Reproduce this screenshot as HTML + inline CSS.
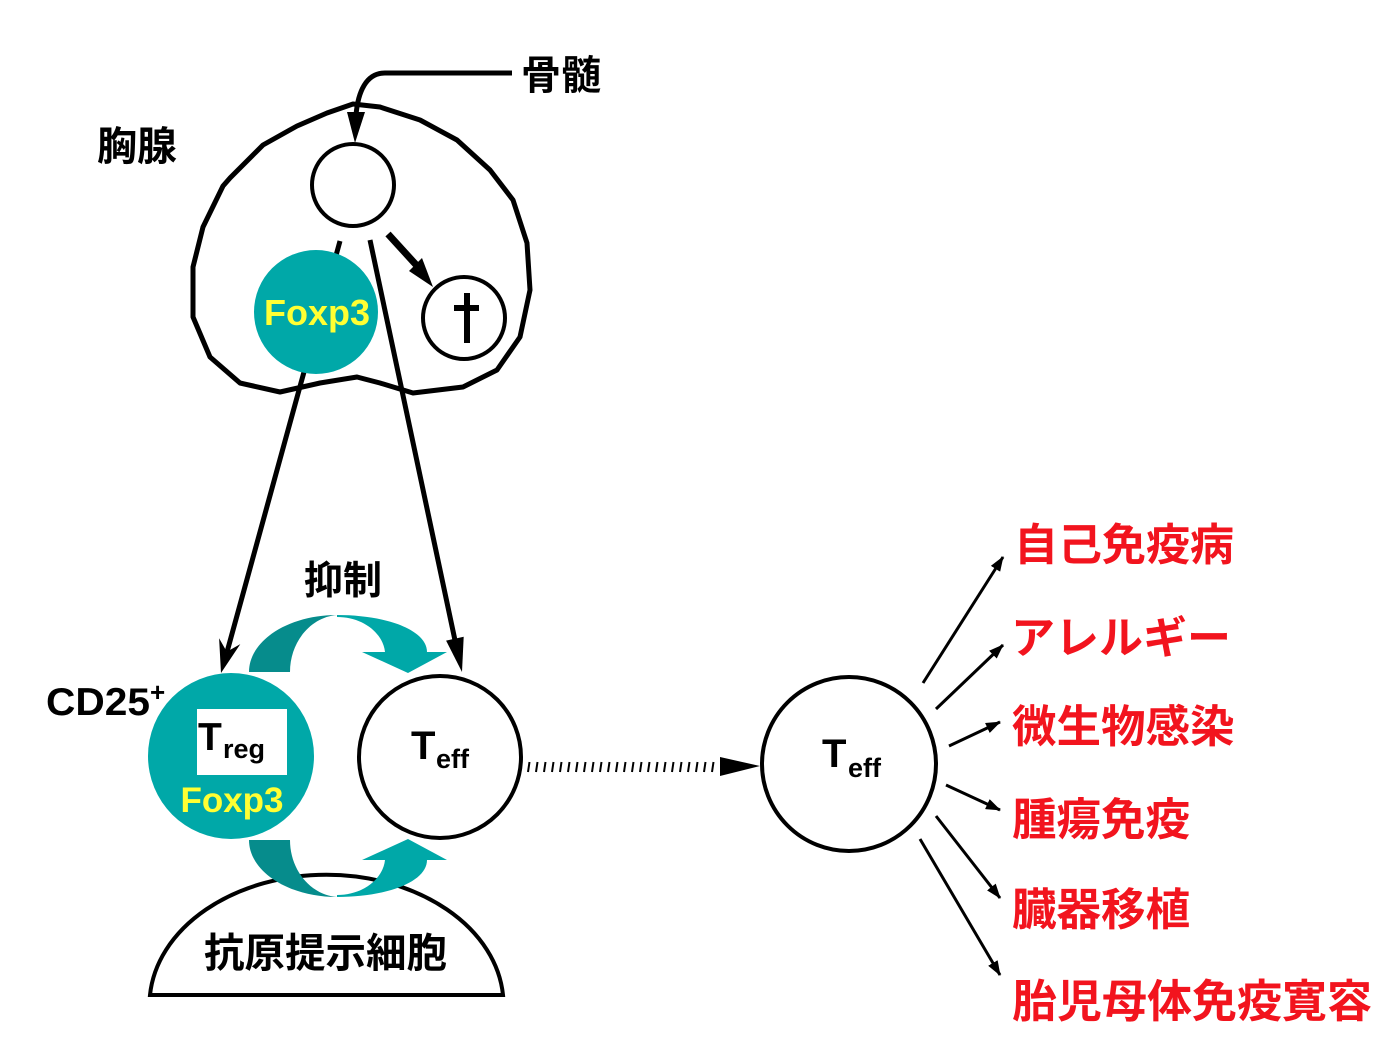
<!DOCTYPE html>
<html><head><meta charset="utf-8"><style>
html,body{margin:0;padding:0;background:#fff;}
svg{display:block;}
.cj{font-family:"Liberation Sans","Noto Sans CJK JP",sans-serif;font-weight:bold;}
.lt{font-family:"Liberation Sans",sans-serif;font-weight:bold;}
</style></head><body>
<svg width="1397" height="1051" viewBox="0 0 1397 1051" xmlns="http://www.w3.org/2000/svg">
<defs>
<marker id="ah" markerUnits="userSpaceOnUse" markerWidth="15" markerHeight="11" refX="14" refY="5.5" orient="auto">
<path d="M0,0 L15,5.5 L0,11 z" fill="#000"/>
</marker>
</defs>

<!-- Thymus outline -->
<polygon points="230,178 263,145 297,126 327,113 353,104 380,107 420,120 457,140 490,170 513,200 527,243 530,290 520,337 497,370 463,387 413,393 380,383 357,377 320,383 280,392 240,383 210,357 193,317 193,267 203,227 223,186" fill="none" stroke="#000" stroke-width="5" stroke-linejoin="round"/>

<!-- bone marrow arrow -->
<path d="M512,73 L385,73 C366,73 358,92 356,115" fill="none" stroke="#000" stroke-width="5"/>
<polygon points="347,112 365,112 355,143" fill="#000"/>

<text x="521" y="89" class="cj" font-size="40" fill="#000">骨髄</text>
<text x="97" y="160" class="cj" font-size="40" fill="#000">胸腺</text>

<!-- small circle -->
<circle cx="353" cy="185" r="41" fill="#fff" stroke="#000" stroke-width="4"/>

<!-- lines to Treg and Teff -->
<line x1="340" y1="241" x2="227" y2="652" stroke="#000" stroke-width="5"/>
<polygon points="221,673 219.1,638.3 226.8,651.8 240.3,644.1" fill="#000"/>
<line x1="370" y1="240" x2="456" y2="645" stroke="#000" stroke-width="5"/>
<polygon points="462,672 463.7,636.8 446.1,640.6" fill="#000"/>

<!-- Foxp3 in thymus -->
<circle cx="316" cy="312" r="62" fill="#00A8A8"/>
<text x="317" y="325" class="lt" font-size="36" fill="#FFFF33" text-anchor="middle">Foxp3</text>

<!-- arrow to dead cell -->
<line x1="388" y1="234" x2="419" y2="268" stroke="#000" stroke-width="7"/>
<polygon points="433,287 409,271 422,258" fill="#000"/>
<circle cx="464" cy="318" r="41" fill="#fff" stroke="#000" stroke-width="4"/>
<rect x="464" y="293" width="6" height="50" fill="#000"/>
<rect x="454" y="305" width="25" height="6" fill="#000"/>

<text x="304" y="594" class="cj" font-size="39" fill="#000">抑制</text>

<!-- APC dome -->
<path d="M150,995 A177,130 0 0 1 503,995 Z" fill="#fff" stroke="#000" stroke-width="4"/>
<text x="204" y="967" class="cj" font-size="40.5" fill="#000">抗原提示細胞</text>

<!-- teal arrows -->
<g>
<path d="M249,672 C249,640.5 288.4,615 337,615 C311,617 290,641.6 290,672 Z" fill="#068C8C"/>
<path d="M337,615 C386.7,615 427,630 427,652 L447,652 L408,673 L362,652 L385,652 C383,633 363,617 337,617 Z" fill="#00A8A8"/>
</g>
<g transform="matrix(1,0,0,-1,0,1512)">
<path d="M249,672 C249,640.5 288.4,615 337,615 C311,617 290,641.6 290,672 Z" fill="#068C8C"/>
<path d="M337,615 C386.7,615 427,630 427,652 L447,652 L408,673 L362,652 L385,652 C383,633 363,617 337,617 Z" fill="#00A8A8"/>
</g>

<!-- Treg -->
<circle cx="231" cy="756" r="83" fill="#00A8A8"/>
<rect x="197" y="709" width="90" height="66" fill="#fff"/>
<text x="198" y="750" class="lt" font-size="39" fill="#000">T</text>
<text x="223" y="758" class="lt" font-size="27" fill="#000">reg</text>
<text x="232" y="812" class="lt" font-size="35" fill="#FFFF33" text-anchor="middle">Foxp3</text>
<text x="46" y="715" class="lt" font-size="39" fill="#000" textLength="104" lengthAdjust="spacingAndGlyphs">CD25</text>
<text x="150" y="701" class="lt" font-size="26" fill="#000">+</text>

<!-- Teff left -->
<circle cx="440" cy="757" r="81" fill="#fff" stroke="#000" stroke-width="4"/>
<text x="411" y="759" class="lt" font-size="40" fill="#000">T</text>
<text x="436" y="768" class="lt" font-size="27" fill="#000">eff</text>

<!-- dashed connector -->
<g stroke="#000" stroke-width="2">
<line x1="528" y1="772" x2="529.5" y2="762"/><line x1="536" y1="772" x2="537.5" y2="762"/><line x1="544" y1="772" x2="545.5" y2="762"/><line x1="552" y1="772" x2="553.5" y2="762"/><line x1="560" y1="772" x2="561.5" y2="762"/><line x1="568" y1="772" x2="569.5" y2="762"/><line x1="576" y1="772" x2="577.5" y2="762"/><line x1="584" y1="772" x2="585.5" y2="762"/><line x1="592" y1="772" x2="593.5" y2="762"/><line x1="600" y1="772" x2="601.5" y2="762"/><line x1="608" y1="772" x2="609.5" y2="762"/><line x1="616" y1="772" x2="617.5" y2="762"/><line x1="624" y1="772" x2="625.5" y2="762"/><line x1="632" y1="772" x2="633.5" y2="762"/><line x1="640" y1="772" x2="641.5" y2="762"/><line x1="648" y1="772" x2="649.5" y2="762"/><line x1="656" y1="772" x2="657.5" y2="762"/><line x1="664" y1="772" x2="665.5" y2="762"/><line x1="672" y1="772" x2="673.5" y2="762"/><line x1="680" y1="772" x2="681.5" y2="762"/><line x1="688" y1="772" x2="689.5" y2="762"/><line x1="696" y1="772" x2="697.5" y2="762"/><line x1="704" y1="772" x2="705.5" y2="762"/><line x1="712" y1="772" x2="713.5" y2="762"/>
</g>
<polygon points="720,757 760,766 720,776" fill="#000"/>

<!-- Teff right -->
<circle cx="849" cy="764" r="87" fill="#fff" stroke="#000" stroke-width="4"/>
<text x="822" y="767" class="lt" font-size="40" fill="#000">T</text>
<text x="848" y="777" class="lt" font-size="27" fill="#000">eff</text>

<!-- outcome arrows -->
<g stroke="#000" stroke-width="3" marker-end="url(#ah)">
<line x1="923" y1="683" x2="1003" y2="557"/>
<line x1="936" y1="709" x2="1003" y2="645"/>
<line x1="949" y1="746" x2="1000" y2="722"/>
<line x1="946" y1="785" x2="1000" y2="810"/>
<line x1="936" y1="816" x2="1000" y2="898"/>
<line x1="920" y1="839" x2="1000" y2="975"/>
</g>

<g class="cj" fill="#F2141E">
<text x="1014" y="560" font-size="44">自己免疫病</text>
<text x="1011" y="653" font-size="44">アレルギー</text>
<text x="1012" y="742" font-size="44.5">微生物感染</text>
<text x="1012" y="835" font-size="44.5">腫瘍免疫</text>
<text x="1012" y="925" font-size="44.5">臓器移植</text>
<text x="1012" y="1017" font-size="45">胎児母体免疫寛容</text>
</g>
</svg>
</body></html>
